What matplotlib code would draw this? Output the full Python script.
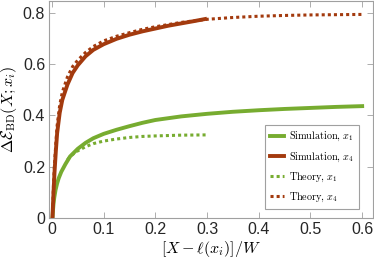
import matplotlib
matplotlib.use("Agg")
import matplotlib.pyplot as plt

plt.rcParams['mathtext.fontset'] = 'cm'
plt.rcParams['font.family'] = ['Liberation Sans', 'DejaVu Sans']

# simulation, x4 (red)
sim4_x = [0.001, 0.002, 0.003, 0.005, 0.0075, 0.010, 0.015, 0.020, 0.030, 0.040, 0.050,
          0.065, 0.080, 0.100, 0.125, 0.150, 0.175, 0.200, 0.225, 0.250, 0.275, 0.296]
sim4_y = [0.0, 0.05, 0.10, 0.18, 0.26, 0.33, 0.41, 0.46, 0.52, 0.565, 0.595,
          0.63, 0.655, 0.677, 0.698, 0.714, 0.727, 0.738, 0.749, 0.758, 0.767, 0.775]

# theory, x4 (red dotted)
th4_x = [0.001, 0.002, 0.003, 0.005, 0.0075, 0.010, 0.015, 0.020, 0.030, 0.040, 0.050,
         0.065, 0.080, 0.100, 0.125, 0.150, 0.175, 0.200, 0.250, 0.300, 0.350, 0.400,
         0.450, 0.500, 0.550, 0.600]
th4_y = [0.0, 0.07, 0.13, 0.21, 0.29, 0.36, 0.44, 0.49, 0.55, 0.59, 0.615,
         0.645, 0.668, 0.69, 0.708, 0.722, 0.735, 0.745, 0.762, 0.774, 0.781, 0.786,
         0.789, 0.791, 0.792, 0.793]

# simulation, x1 (green)
sim1_x = [0.001, 0.002, 0.003, 0.0045, 0.007, 0.010, 0.013, 0.018, 0.026, 0.035, 0.050,
          0.065, 0.080, 0.100, 0.125, 0.150, 0.175, 0.200, 0.250, 0.300, 0.350, 0.400,
          0.450, 0.500, 0.550, 0.600]
sim1_y = [0.0, 0.03, 0.055, 0.08, 0.11, 0.135, 0.155, 0.18, 0.21, 0.24, 0.27,
          0.293, 0.311, 0.328, 0.344, 0.358, 0.371, 0.382, 0.396, 0.406, 0.414, 0.420,
          0.425, 0.429, 0.433, 0.436]

# theory, x1 (green dotted)
th1_x = [0.030, 0.040, 0.050, 0.065, 0.080, 0.100, 0.125, 0.150, 0.175, 0.200, 0.250, 0.300]
th1_y = [0.228, 0.248, 0.262, 0.278, 0.290, 0.300, 0.308, 0.314, 0.318, 0.320, 0.323, 0.324]

xticks = [0, 0.1, 0.2, 0.3, 0.4, 0.5, 0.6]
yticks = [0, 0.2, 0.4, 0.6, 0.8]

green = '#77ac30'
red = '#a33a0e'

fig = plt.figure(figsize=(3.74, 2.66), dpi=100)
ax = fig.add_axes([0.132, 0.18, 0.864, 0.816])

ax.plot(th1_x, th1_y, color=green, lw=2.2, linestyle=(0, (1, 1)), zorder=2)
ax.plot(th4_x, th4_y, color=red, lw=2.2, linestyle=(0, (1, 1)), zorder=2)
ax.plot(sim1_x, sim1_y, color=green, lw=2.8, zorder=3)
ax.plot(sim4_x, sim4_y, color=red, lw=2.8, zorder=3)

h1, = ax.plot([], [], color=green, lw=2.8)
h2, = ax.plot([], [], color=red, lw=2.8)
h3, = ax.plot([], [], color=green, lw=2.2, linestyle=(0, (1, 1)))
h4, = ax.plot([], [], color=red, lw=2.2, linestyle=(0, (1, 1)))

ax.set_xlim(-0.005, 0.62)
ax.set_ylim(0, 0.845)
ax.set_xticks(xticks)
ax.set_xticklabels(['0', '0.1', '0.2', '0.3', '0.4', '0.5', '0.6'])
ax.set_yticks(yticks)
ax.set_yticklabels(['0', '0.2', '0.4', '0.6', '0.8'])

ax.tick_params(direction='in', length=4, width=0.6, colors='#a0a0a0',
               labelcolor='#262626', labelsize=11.5, top=True, right=True, pad=3)
for s in ax.spines.values():
    s.set_color('#a0a0a0')
    s.set_linewidth(0.8)

ax.set_xlabel(r'$[X-\ell(x_i)]/W$', fontsize=11.5, labelpad=1)
ax.set_ylabel(r'$\Delta\mathcal{E}_{\rm BD}(X;x_i)$', fontsize=11.5, labelpad=3)

leg = ax.legend([h1, h2, h3, h4],
                [r'$\mathrm{Simulation},\, x_1$', r'$\mathrm{Simulation},\, x_4$',
                 r'$\mathrm{Theory},\, x_1$', r'$\mathrm{Theory},\, x_4$'],
                loc='lower right', fontsize=7.3, handlelength=1.4, handletextpad=0.5,
                labelspacing=0.66, borderpad=0.5, fancybox=False, framealpha=1,
                bbox_to_anchor=(0.975, 0.02))
leg.get_frame().set_edgecolor('#a0a0a0')
leg.get_frame().set_linewidth(0.8)

fig.savefig('out.png', dpi=100)
